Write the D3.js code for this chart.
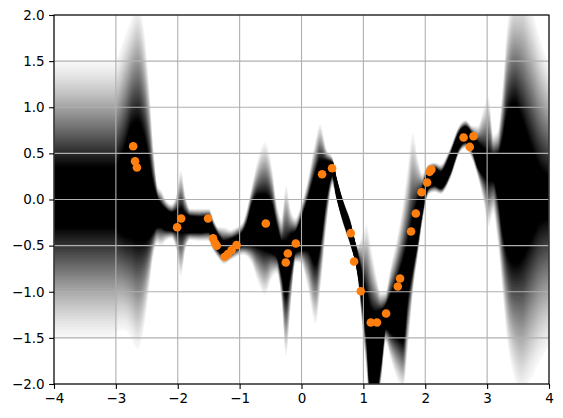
<!DOCTYPE html>
<html>
<head>
<meta charset="utf-8">
<script src="https://cdn.jsdelivr.net/npm/d3@7"></script>
<style>
  body { margin: 0; background: #fff; }
  text { font-family: "DejaVu Sans", sans-serif; font-size: 13.5px; fill: #000; }
</style>
</head>
<body>
<script>
// band knots: outer edge (upper / lower) and black core (top / bottom)
const gridX = [-4.00, -3.50, -3.02, -2.95, -2.85, -2.75, -2.65, -2.55, -2.47, -2.40, -2.33, -2.27, -2.20, -2.10,
  -2.02, -1.95, -1.88, -1.80, -1.65, -1.50, -1.42, -1.35, -1.25, -1.15, -1.05, -0.95, -0.88, -0.80, -0.70,
  -0.59, -0.48, -0.40, -0.32, -0.25, -0.18, -0.10, 0.00, 0.10, 0.23, 0.30, 0.40, 0.50, 0.565, 0.67, 0.78,
  0.91, 1.00, 1.05, 1.12, 1.20, 1.28, 1.36, 1.45, 1.55, 1.64, 1.72, 1.80, 1.88, 1.95, 2.05, 2.15, 2.25,
  2.40, 2.55, 2.65, 2.75, 2.85, 2.95, 3.02, 3.10, 3.18, 3.25, 3.33, 3.45, 3.55, 3.70, 3.85, 4.00];
const upperEdge = [1.50, 1.50, 1.50, 1.58, 1.78, 1.95, 2.10, 1.85, 1.30, 0.60, 0.15, 0.10, 0.00, -0.05,
  0.05, 0.32, 0.05, -0.10, -0.10, -0.10, -0.22, -0.30, -0.30, -0.33, -0.30, -0.25, -0.10, 0.15, 0.45,
  0.62, 0.35, -0.05, -0.20, 0.16, -0.10, -0.20, -0.05, 0.20, 0.65, 0.82, 0.55, 0.45, 0.25, 0.00, -0.20,
  -0.50, -0.35, -0.27, -0.50, -0.80, -1.00, -1.00, -0.70, -0.40, -0.05, 0.35, 0.72, 0.45, 0.28, 0.38, 0.40, 0.38,
  0.55, 0.80, 0.86, 0.80, 0.80, 1.00, 1.12, 0.70, 0.75, 1.20, 1.90, 2.25, 2.30, 2.10, 1.75, 1.45];
const coreTop = [0.35, 0.35, 0.35, 0.42, 0.58, 0.80, 0.85, 0.70, 0.45, 0.18, 0.02, -0.05, -0.10, -0.14,
  -0.12, -0.10, -0.15, -0.18, -0.19, -0.18, -0.30, -0.38, -0.45, -0.43, -0.40, -0.35, -0.25, -0.05, 0.05,
  0.05, -0.05, -0.28, -0.45, -0.45, -0.38, -0.35, -0.20, 0.00, 0.30, 0.42, 0.42, 0.40, 0.22, -0.03, -0.24,
  -0.60, -0.88, -1.00, -1.18, -1.22, -1.20, -1.15, -1.02, -0.85, -0.66, -0.45, -0.20, 0.00, 0.12, 0.32, 0.34, 0.30,
  0.48, 0.73, 0.79, 0.72, 0.62, 0.55, 0.50, 0.48, 0.50, 0.65, 0.95, 1.05, 0.90, 0.60, 0.35, 0.25];
const coreBottom = [-0.30, -0.30, -0.30, -0.35, -0.40, -0.42, -0.45, -0.45, -0.42, -0.36, -0.30, -0.30, -0.33, -0.34,
  -0.35, -0.36, -0.36, -0.36, -0.36, -0.35, -0.48, -0.55, -0.60, -0.58, -0.54, -0.50, -0.50, -0.50, -0.52,
  -0.55, -0.58, -0.62, -0.82, -1.05, -0.80, -0.58, -0.55, -0.55, -0.70, -0.50, 0.00, 0.26, 0.04, -0.22, -0.44,
  -0.80, -1.22, -1.50, -2.10, -2.10, -1.80, -1.40, -1.45, -1.50, -1.55, -1.05, -0.75, -0.45, -0.15, 0.12, 0.15, 0.12,
  0.28, 0.56, 0.62, 0.55, 0.35, 0.25, 0.20, 0.20, 0.00, -0.35, -0.60, -0.70, -0.65, -0.45, -0.25, -0.20];
const lowerEdge = [-1.50, -1.50, -1.50, -1.42, -1.42, -1.50, -1.62, -1.40, -1.00, -0.62, -0.48, -0.50, -0.45, -0.42,
  -0.55, -0.84, -0.55, -0.44, -0.45, -0.45, -0.56, -0.63, -0.70, -0.66, -0.62, -0.60, -0.62, -0.70, -0.90,
  -1.03, -0.85, -0.80, -1.10, -1.70, -1.20, -0.68, -0.70, -0.95, -1.35, -1.00, -0.30, 0.15, 0.00, -0.26, -0.48,
  -0.85, -1.50, -1.85, -2.30, -2.30, -2.00, -1.55, -1.75, -1.95, -2.05, -1.60, -1.00, -0.60, -0.25, 0.05, 0.08, 0.06,
  0.22, 0.50, 0.56, 0.45, 0.25, -0.05, -0.30, -0.15, -0.50, -1.00, -1.55, -1.95, -2.10, -1.95, -1.75, -1.60];

// observed points
const pointX = [-2.72, -2.69, -2.66, -2.01, -1.945, -1.51, -1.43, -1.40, -1.37, -1.24, -1.19, -1.13, -1.05,
  -0.577, -0.254, -0.221, -0.092, 0.333, 0.494, 0.796, 0.85, 0.958, 1.12, 1.22, 1.367, 1.556, 1.593,
  1.771, 1.847, 1.94, 2.03, 2.07, 2.10, 2.62, 2.72, 2.78];
const pointY = [0.578, 0.415, 0.347, -0.30, -0.206, -0.206, -0.42, -0.47, -0.50, -0.62, -0.59, -0.55, -0.495,
  -0.26, -0.683, -0.585, -0.477, 0.274, 0.339, -0.365, -0.672, -0.994, -1.333, -1.333, -1.236, -0.943, -0.857,
  -0.347, -0.152, 0.079, 0.184, 0.30, 0.325, 0.672, 0.570, 0.686];

const xTicks = [-4, -3, -2, -1, 0, 1, 2, 3, 4];
const yTicks = [-2.0, -1.5, -1.0, -0.5, 0.0, 0.5, 1.0, 1.5, 2.0];

const W = 563, H = 418;
const m = {left: 54, right: 549, top: 15, bottom: 384};

const svg = d3.select("body").append("svg").attr("width", W).attr("height", H);
const x = d3.scaleLinear().domain([-4, 4]).range([m.left, m.right]);
const y = d3.scaleLinear().domain([-2, 2]).range([m.bottom, m.top]);

svg.append("clipPath").attr("id", "plotClip")
  .append("rect").attr("x", m.left).attr("y", m.top)
  .attr("width", m.right - m.left).attr("height", m.bottom - m.top);

const rows = gridX.map((gx, i) => ({x: gx, hi: upperEdge[i], cu: coreTop[i], cl: coreBottom[i], lo: lowerEdge[i]}));
const shade = svg.append("g").attr("clip-path", "url(#plotClip)");

// nested bands from the outer edge in to the core, getting darker
const nBands = 40;
for (let k = nBands; k >= 1; k--) {
  const t = k / nBands;
  const dark = 0.03 + 0.97 * Math.pow(1 - (k - 0.5) / nBands, 1.3);
  const v = Math.round(255 * (1 - dark));
  const band = d3.area()
    .x(d => x(d.x))
    .y0(d => y(d.cl - (d.cl - d.lo) * t))
    .y1(d => y(d.cu + (d.hi - d.cu) * t))
    .curve(d3.curveMonotoneX);
  shade.append("path").datum(rows).attr("d", band).attr("fill", d3.rgb(v, v, v));
}
const core = d3.area()
  .x(d => x(d.x))
  .y0(d => y(d.cl))
  .y1(d => y(d.cu))
  .curve(d3.curveMonotoneX);
shade.append("path").datum(rows).attr("d", core).attr("fill", "#000");

// grid
const grid = svg.append("g").attr("stroke", "#b0b0b0").attr("stroke-width", 1.1);
xTicks.forEach(v => grid.append("line").attr("x1", x(v)).attr("x2", x(v)).attr("y1", m.top).attr("y2", m.bottom));
yTicks.forEach(v => grid.append("line").attr("x1", m.left).attr("x2", m.right).attr("y1", y(v)).attr("y2", y(v)));

// axes
const fmtY = d => d3.format(".1f")(d).replace("-", "\u2212");
const fmtX = d => String(d).replace("-", "\u2212");
const xAxis = svg.append("g").attr("transform", `translate(0,${m.bottom})`)
  .call(d3.axisBottom(x).tickValues(xTicks).tickFormat(fmtX).tickSize(4.9).tickPadding(4.4));
const yAxis = svg.append("g").attr("transform", `translate(${m.left},0)`)
  .call(d3.axisLeft(y).tickValues(yTicks).tickFormat(fmtY).tickSize(4.9).tickPadding(4.4));
[xAxis, yAxis].forEach(a => {
  a.select(".domain").remove();
  a.selectAll(".tick line").attr("stroke", "#000").attr("stroke-width", 1.1);
  a.selectAll("text").attr("font-family", "DejaVu Sans, sans-serif").attr("font-size", 13.5).attr("fill", "#000");
});

// frame
svg.append("rect").attr("x", m.left).attr("y", m.top).attr("width", m.right - m.left).attr("height", m.bottom - m.top)
  .attr("fill", "none").attr("stroke", "#000").attr("stroke-width", 1.1);

// points
svg.append("g").selectAll("circle").data(pointX).join("circle")
  .attr("cx", d => x(d))
  .attr("cy", (d, i) => y(pointY[i]))
  .attr("r", 4.3)
  .attr("fill", "#ff7f0e");
</script>
</body>
</html>
